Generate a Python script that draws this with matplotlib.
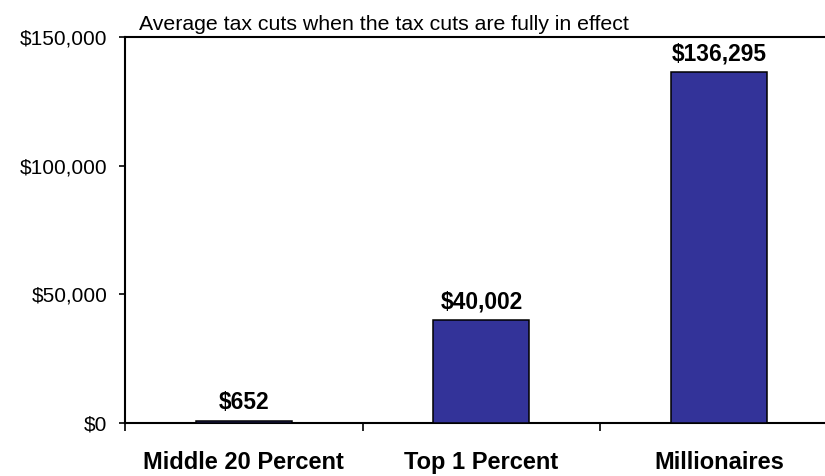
import matplotlib
matplotlib.use('Agg')
import matplotlib.pyplot as plt
from matplotlib.ticker import FuncFormatter

groups = ['Middle 20 Percent', 'Top 1 Percent', 'Millionaires']
avg_cut = [652, 40002, 136295]
y_ticks = [0, 50000, 100000, 150000]

plt.rcParams['font.family'] = ['Liberation Sans', 'DejaVu Sans']

fig = plt.figure(figsize=(8.25, 4.76), dpi=100)
ax = fig.add_axes([0.1515, 0.1113, 0.864, 0.811])

pos = [i + 0.5 for i in range(len(groups))]
bars = ax.bar(pos, avg_cut, width=0.404, color='#333399',
              edgecolor='black', linewidth=1.1, zorder=3)

for b, v in zip(bars, avg_cut):
    ax.annotate('${:,}'.format(v), (b.get_x() + b.get_width() / 2, v),
                xytext=(0, 5), textcoords='offset points',
                ha='center', va='bottom', fontsize=16.4, fontweight='bold')

ax.set_xlim(0, 3)
ax.set_ylim(0, 150000)
ax.set_yticks(y_ticks)
ax.yaxis.set_major_formatter(FuncFormatter(lambda v, p: '${:,.0f}'.format(v)))
ax.tick_params(axis='y', labelsize=15, length=4.5, width=1.2, pad=8)

# group boundaries carry the ticks, names sit in between
ax.set_xticks([0, 1, 2, 3])
ax.set_xticklabels([])
ax.set_xticks(pos, minor=True)
ax.set_xticklabels(groups, minor=True, fontsize=17, fontweight='bold')
ax.tick_params(axis='x', which='major', length=6, width=1.2)
ax.tick_params(axis='x', which='minor', length=0, pad=20)

for s in ['left', 'bottom', 'top']:
    ax.spines[s].set_linewidth(1.5)
ax.spines['right'].set_visible(False)

ax.text(0.02, 1.008, 'Average tax cuts when the tax cuts are fully in effect',
        transform=ax.transAxes, fontsize=15.3, ha='left', va='bottom')

fig.savefig('out.png', dpi=100)
